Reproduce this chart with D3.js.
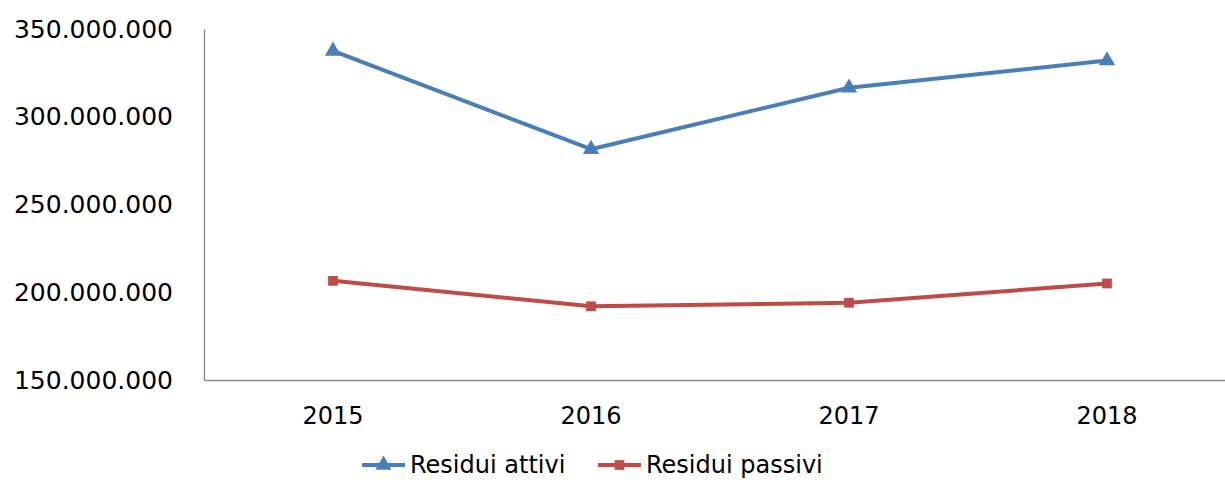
<!DOCTYPE html>
<html>
<head>
<meta charset="utf-8">
<script src="https://cdn.jsdelivr.net/npm/d3@7"></script>
<style>
  body { margin: 0; background: #fff; }
  svg { display: block; font-family: "DejaVu Sans", sans-serif; }
</style>
</head>
<body>
<div id="chart"></div>
<script>
const years = ['2015', '2016', '2017', '2018'];
const residuiAttivi = [337500000, 281500000, 316500000, 332000000];
const residuiPassivi = [206500000, 192000000, 194000000, 205000000];
const yTicks = [150000000, 200000000, 250000000, 300000000, 350000000];

const series = [
    { name: 'Residui attivi', values: residuiAttivi, color: '#4a7ebb', marker: d3.symbolTriangle, size: 115 },
    { name: 'Residui passivi', values: residuiPassivi, color: '#be4b48', marker: d3.symbolSquare, size: 95 }
];

const width = 1225, height = 480;
const margin = { top: 29, right: -11, bottom: 100, left: 204 };

const fmt = v => d3.format(',')(v).replace(/,/g, '.');

const x = d3.scaleBand()
    .domain(years)
    .range([margin.left, width - margin.right]);

const y = d3.scaleLinear()
    .domain([150000000, 350000000])
    .range([height - margin.bottom, margin.top]);

const svg = d3.select('#chart').append('svg')
    .attr('width', width)
    .attr('height', height);

// y axis
svg.append('g')
    .attr('transform', `translate(${margin.left},0)`)
    .call(d3.axisLeft(y).tickValues(yTicks).tickFormat(fmt).tickSize(0).tickPadding(31))
    .call(g => g.select('.domain').attr('stroke', '#868686').attr('stroke-width', 1.3))
    .call(g => g.selectAll('text').attr('font-size', 25).attr('fill', '#000')
        .attr('font-family', '"DejaVu Sans", sans-serif'));

// x axis
svg.append('g')
    .attr('transform', `translate(0,${height - margin.bottom})`)
    .call(d3.axisBottom(x).tickSize(0).tickPadding(27))
    .call(g => g.select('.domain').attr('stroke', '#868686').attr('stroke-width', 1.3))
    .call(g => g.selectAll('text').attr('font-size', 24).attr('fill', '#000')
        .attr('font-family', '"DejaVu Sans", sans-serif'));

const line = d3.line()
    .x((d, i) => x(years[i]) + x.bandwidth() / 2)
    .y(d => y(d));

series.forEach(s => {
    svg.append('path')
        .datum(s.values)
        .attr('fill', 'none')
        .attr('stroke', s.color)
        .attr('stroke-width', 4)
        .attr('stroke-linejoin', 'round')
        .attr('d', line);

    svg.append('g').selectAll('path')
        .data(s.values)
        .join('path')
        .attr('transform', (d, i) => `translate(${x(years[i]) + x.bandwidth() / 2},${y(d)})`)
        .attr('d', d3.symbol().type(s.marker).size(s.size))
        .attr('fill', s.color);
});

// legend (kept just inside the bottom edge)
const legend = svg.append('g').attr('transform', 'translate(362,465)');
series.forEach((s, i) => {
    const g = legend.append('g').attr('transform', `translate(${i === 0 ? 0 : 236},0)`);
    g.append('line')
        .attr('x1', 0).attr('x2', 43)
        .attr('stroke', s.color).attr('stroke-width', 4);
    g.append('path')
        .attr('transform', 'translate(21.5,0)')
        .attr('d', d3.symbol().type(s.marker).size(s.size))
        .attr('fill', s.color);
    g.append('text')
        .attr('x', 48)
        .attr('y', 8)
        .attr('font-size', 24)
        .attr('fill', '#000')
        .text(s.name);
});
</script>
</body>
</html>
